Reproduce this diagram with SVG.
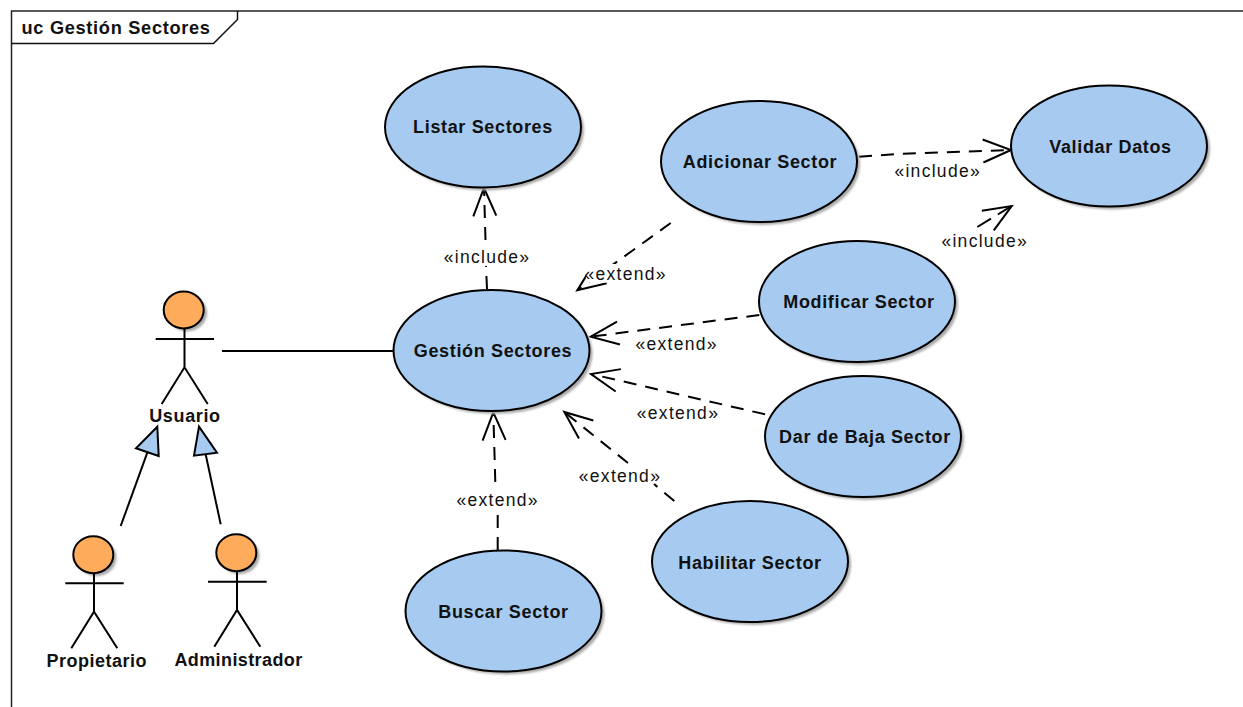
<svg xmlns="http://www.w3.org/2000/svg" width="1243" height="707" viewBox="0 0 1243 707">
<style>
text{font-family:"Liberation Sans",Arial,sans-serif;fill:#111}
.n{font-size:18px;font-weight:bold;letter-spacing:.65px;text-anchor:middle}
.l{font-size:17.500px;letter-spacing:1.3px;text-anchor:middle}
.uc{fill:#a6caf0;stroke:#000;stroke-width:2}
.sh{fill:#aaa;filter:url(#b)}
.head{fill:#ffab5c;stroke:#000;stroke-width:2}
.st{fill:none;stroke:#000;stroke-width:2}
.d{fill:none;stroke:#000;stroke-width:2;stroke-dasharray:13 9;marker-end:url(#open)}
.g{fill:#a6caf0;stroke:#000;stroke-width:2}
</style>
<defs>
<filter id="b" x="-10%" y="-10%" width="120%" height="120%"><feGaussianBlur stdDeviation="1.2"/></filter>
<marker id="open" markerUnits="userSpaceOnUse" orient="auto" markerWidth="1" markerHeight="1" refX="0" refY="0" overflow="visible">
<path d="M-28,-11.5L0,0L-28,11.5" fill="none" stroke="#000" stroke-width="2" stroke-dasharray="none"/>
</marker>
<ellipse id="e" cx="0" cy="0" rx="98" ry="60.500"/>
</defs>
<rect width="1243" height="707" fill="#fff"/>
<g id="frame">
<path d="M11.500,707V11H1243" fill="none" stroke="#222" stroke-width="1.500"/>
<path d="M11.500,43.500H213.500L237.500,19.500V11" fill="none" stroke="#111" stroke-width="1.500"/>
<text x="21.500" y="34" font-size="18.200" font-weight="bold" letter-spacing=".7">uc Gestión Sectores</text>
</g>
<g id="connectors">
<path class="st" d="M222,351H394"/>
<path class="st" d="M120.700,526L147.300,452.700"/>
<path class="g" d="M157.300,426.700L136,448.300L158.700,456Z"/>
<path class="st" d="M220.700,524.300L205.700,454.500"/>
<path class="g" d="M199,426.700L194,455.700L217,452.700Z"/>
<path class="d" d="M487,289L486,266M485.500,240L484,188"/>
<path class="d" d="M670.700,223L577.300,290.300"/>
<rect x="586" y="264" width="82" height="18.500" fill="#fff"/>
<path class="d" d="M759.300,315L590.700,336.700"/>
<path class="d" d="M765,414.300L591,374"/>
<path class="d" d="M674.300,501L654,484M628,463L564.300,412"/>
<path class="d" d="M497.700,550V509M495.300,482L493.300,412.300"/>
<path class="d" d="M859,156.700L896.700,154L1011,150"/>
<path class="d" style="stroke-dasharray:16 8" d="M977.300,227L1011.700,206"/>
<text class="l" x="487" y="262.500">«include»</text>
<text class="l" x="625.700" y="280">«extend»</text>
<text class="l" x="676.700" y="350">«extend»</text>
<text class="l" x="678" y="419">«extend»</text>
<text class="l" x="620" y="481.700">«extend»</text>
<text class="l" x="497.700" y="505.700">«extend»</text>
<text class="l" x="937.700" y="176.700">«include»</text>
<text class="l" x="984.700" y="246.700">«include»</text>
</g>
<g id="listar"><use href="#e" x="486" y="130" class="sh"/><use href="#e" x="483" y="127" class="uc"/><text class="n" x="483" y="133">Listar Sectores</text></g>
<g id="adicionar"><use href="#e" x="762" y="164.500" class="sh"/><use href="#e" x="759" y="161.500" class="uc"/><text class="n" x="760" y="168">Adicionar Sector</text></g>
<g id="validar"><use href="#e" x="1112" y="149" class="sh"/><use href="#e" x="1109" y="146" class="uc"/><text class="n" x="1110.500" y="152.700">Validar Datos</text></g>
<g id="modificar"><use href="#e" x="860" y="304.500" class="sh"/><use href="#e" x="857" y="301.500" class="uc"/><text class="n" x="859" y="308">Modificar Sector</text></g>
<g id="gestion"><use href="#e" x="494.500" y="353.500" class="sh"/><use href="#e" x="491.500" y="350.500" class="uc"/><text class="n" x="493" y="357">Gestión Sectores</text></g>
<g id="baja"><use href="#e" x="866" y="439.500" class="sh"/><use href="#e" x="863" y="436.500" class="uc"/><text class="n" x="865" y="443">Dar de Baja Sector</text></g>
<g id="habilitar"><use href="#e" x="753" y="564.500" class="sh"/><use href="#e" x="750" y="561.500" class="uc"/><text class="n" x="750" y="569">Habilitar Sector</text></g>
<g id="buscar"><use href="#e" x="506.500" y="614" class="sh"/><use href="#e" x="503.500" y="611" class="uc"/><text class="n" x="503.500" y="618">Buscar Sector</text></g>
<g id="usuario">
<ellipse class="sh" cx="187" cy="313" rx="20" ry="18.500"/>
<path class="st" d="M184.500,328V367.300M155.700,339H214M161.700,404L184.500,367.300L207.700,404"/>
<ellipse class="head" cx="183.700" cy="310" rx="20" ry="18.500"/>
<text class="n" x="185" y="421.700">Usuario</text>
</g>
<g id="propietario">
<ellipse class="sh" cx="96.500" cy="557.700" rx="20" ry="18.500"/>
<path class="st" d="M94,573V611.700M65.300,583.300H123.700M71.300,648.300L94,611.700L117.300,648.300"/>
<ellipse class="head" cx="93.300" cy="554.700" rx="20" ry="18.500"/>
<text class="n" x="96.700" y="666.700" style="letter-spacing:.5px">Propietario</text>
</g>
<g id="administrador">
<ellipse class="sh" cx="239.500" cy="555.700" rx="20" ry="18.500"/>
<path class="st" d="M237,571V610M208,581.700H266.700M214.300,646.700L237,610L260.300,646.700"/>
<ellipse class="head" cx="236.300" cy="552.700" rx="20" ry="18.500"/>
<text class="n" x="238.500" y="666" style="letter-spacing:.4px">Administrador</text>
</g>
</svg>
